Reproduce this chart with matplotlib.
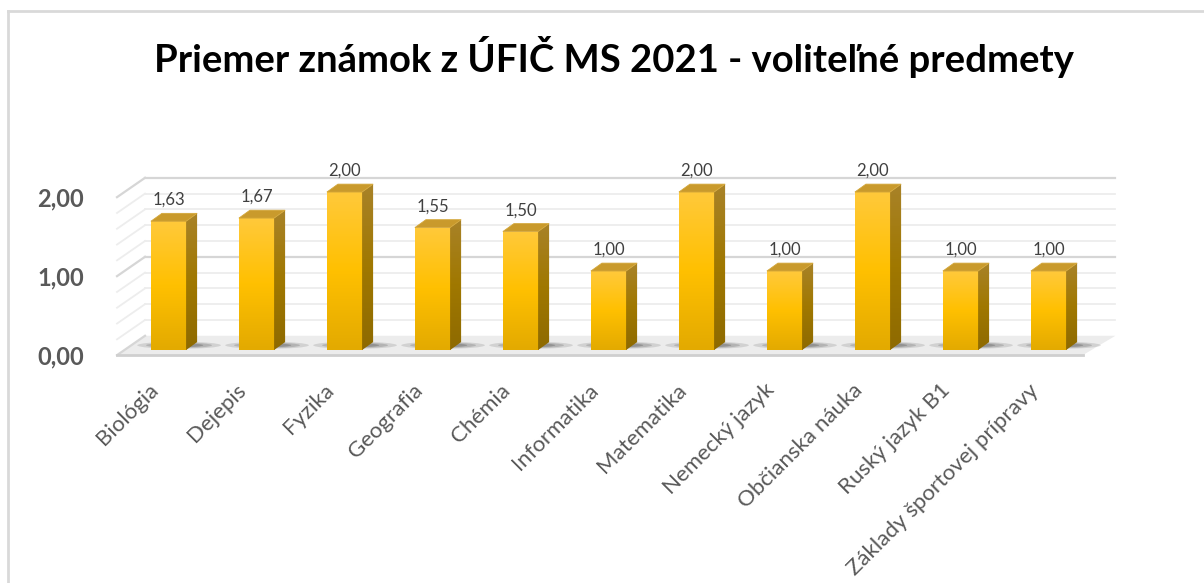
import numpy as np
import matplotlib
matplotlib.use('Agg')
import matplotlib.pyplot as plt
from matplotlib.patches import Polygon, Rectangle, Ellipse
from matplotlib.lines import Line2D

# chart data
subjects = ['Biológia', 'Dejepis', 'Fyzika', 'Geografia', 'Chémia', 'Informatika',
            'Matematika', 'Nemecký jazyk', 'Občianska náuka', 'Ruský jazyk B1',
            'Základy športovej prípravy']
averages = [1.63, 1.67, 2.00, 1.55, 1.50, 1.00, 2.00, 1.00, 2.00, 1.00, 1.00]
y_ticks = [0.0, 1.0, 2.0]
grid_steps = [0.0, 0.2, 0.4, 0.6, 0.8, 1.0, 1.2, 1.4, 1.6, 1.8, 2.0]
title = 'Priemer známok z ÚFIČ MS 2021 - voliteľné predmety'

plt.rcParams['font.family'] = ['Lato', 'DejaVu Sans']

W, H = 1204, 583
fig = plt.figure(figsize=(W / 100, H / 100), dpi=100)
fig.patch.set_facecolor('white')

# outer chart border (light grey, top + left visible)
fig.add_artist(Line2D([8 / W, 1.0], [1 - 11 / H, 1 - 11 / H], color='#d9d9d9', lw=2.0))
fig.add_artist(Line2D([8 / W, 8 / W], [0, 1 - 11 / H], color='#d9d9d9', lw=2.0))

fig.text(0.51, 1 - 57 / H, title, ha='center', va='center',
         fontsize=27.5, fontweight='bold', color='black')

ax = fig.add_axes([0.06686, 0.3319, 0.87708, 0.4471])

# 3d-ish geometry (in data units)
bar_w = 0.40
depth_x, depth_y = 0.125, 0.10      # bar depth offset
back_dy = 0.18                      # back wall offset
front_dy = -0.065                   # front edge of floor / wall
wall_x0, wall_x1 = -0.585, -0.267   # left wall front / back x
floor_right_front, floor_right_back = 10.39, 10.76

# floor
ax.add_patch(Polygon([[wall_x0, front_dy], [floor_right_front, front_dy],
                      [floor_right_back, back_dy], [wall_x1, back_dy]],
                     closed=True, facecolor='#ececec', edgecolor='none', zorder=1))
ax.plot([wall_x0, floor_right_front], [front_dy, front_dy], color='#cfcfcf', lw=2, zorder=2)

# back wall gridlines + left side wall lines
for g in grid_steps:
    major = abs(g - round(g)) < 1e-9
    col = '#d6d6d6' if major else '#ededed'
    lw = 1.6 if major else 1.3
    if g > 0:
        ax.plot([wall_x1, floor_right_back], [g + back_dy, g + back_dy], color=col, lw=lw, zorder=1.5)
    ax.plot([wall_x0, wall_x1], [g + front_dy, g + back_dy], color=col, lw=lw, zorder=1.5)

# y tick labels
for t in y_ticks:
    ax.text(-0.96, t - 0.09, f'{t:.2f}'.replace('.', ','), ha='right', va='center',
            fontsize=17, fontweight='bold', color='#595959')

front_grad = np.linspace(0, 1, 64).reshape(-1, 1)
front_cmap = matplotlib.colors.LinearSegmentedColormap.from_list(
    'front', ['#e3aa00', '#ffc000', '#ffc93a'])
side_cmap = matplotlib.colors.LinearSegmentedColormap.from_list(
    'side', ['#8e6a00', '#a07800', '#a88228'])

for i, v in enumerate(averages):
    x0, x1 = i - bar_w / 2, i + bar_w / 2
    # floor shadow
    for k, a in enumerate([0.14, 0.18, 0.25]):
        sw = 0.95 - k * 0.2
        ax.add_patch(Ellipse((i + 0.12, 0.06), sw, 0.09 - k * 0.02,
                             facecolor='#303030', alpha=a, edgecolor='none', zorder=2))
    # front face with gradient
    front = Rectangle((x0, 0), bar_w, v, facecolor='none', edgecolor='none', zorder=4)
    ax.add_patch(front)
    im = ax.imshow(front_grad, extent=[x0, x1, 0, v], origin='lower', aspect='auto',
                   cmap=front_cmap, zorder=4)
    im.set_clip_path(front)
    # side face
    side = Polygon([[x1, 0], [x1 + depth_x, depth_y], [x1 + depth_x, v + depth_y], [x1, v]],
                   closed=True, facecolor='none', edgecolor='none', zorder=4)
    ax.add_patch(side)
    im2 = ax.imshow(front_grad, extent=[x1, x1 + depth_x, 0, v + depth_y], origin='lower',
                    aspect='auto', cmap=side_cmap, zorder=4)
    im2.set_clip_path(side)
    # top face
    ax.add_patch(Polygon([[x0, v], [x1, v], [x1 + depth_x, v + depth_y], [x0 + depth_x, v + depth_y]],
                         closed=True, facecolor='#c99a2c', edgecolor='#d4a73a', lw=0.6, zorder=5))
    # value label
    ax.text(i, v + 0.27, f'{v:.2f}'.replace('.', ','), ha='center', va='center',
            fontsize=12, color='#404040', zorder=6)
    # category label
    ax.text(i - 0.07, -0.38, subjects[i], rotation=45, ha='right', va='top',
            fontsize=16, color='#595959')

ax.set_xlim(-1, 11)
ax.set_ylim(-0.5, 2.8)
ax.axis('off')

fig.savefig('out.png', dpi=100)
